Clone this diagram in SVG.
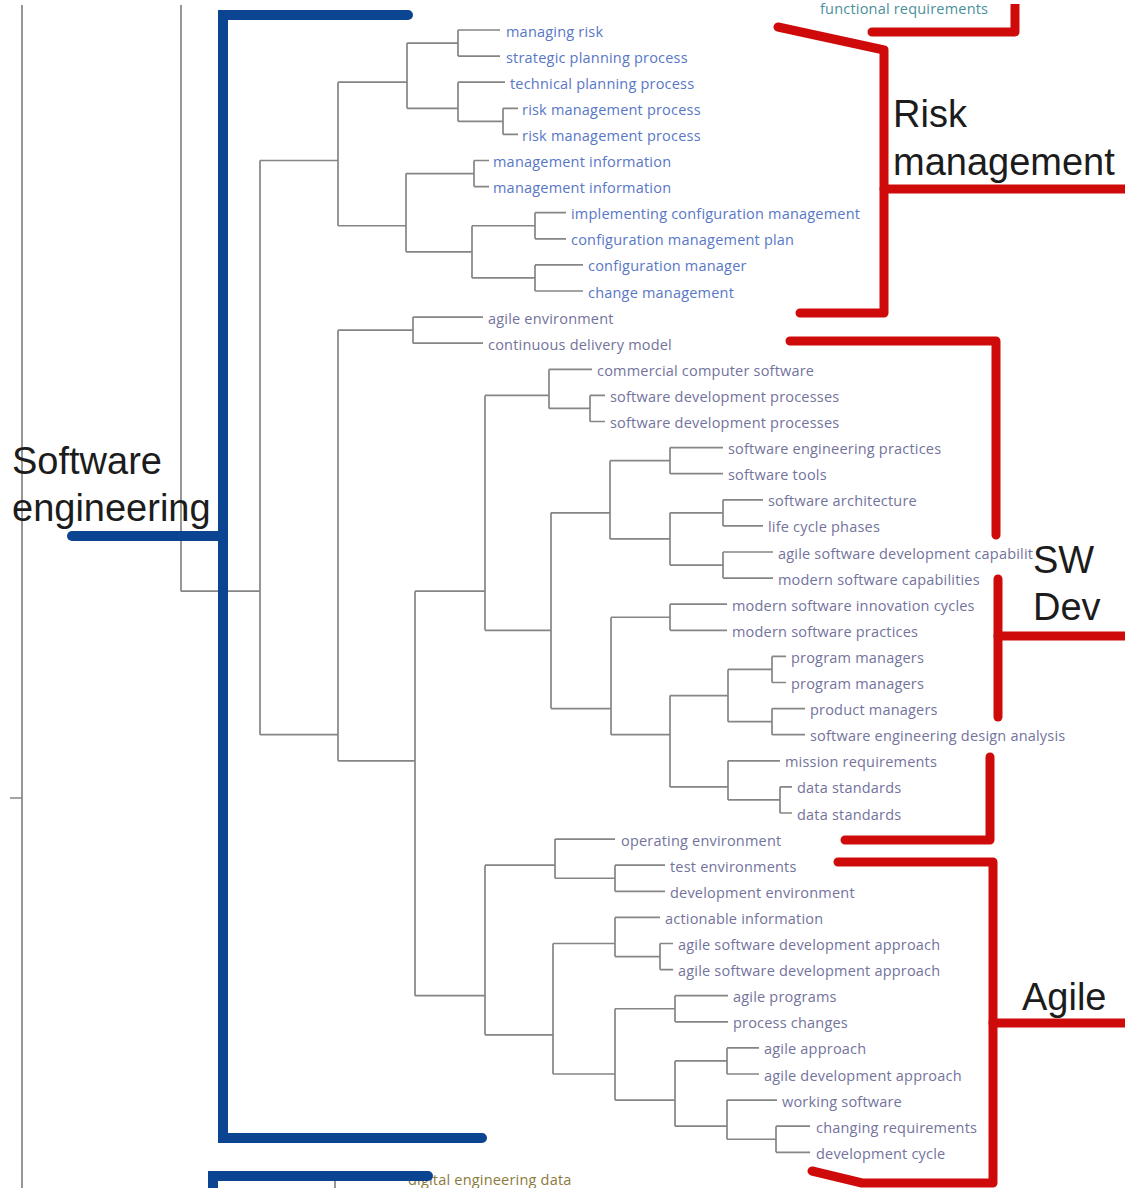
<svg xmlns="http://www.w3.org/2000/svg" width="1125" height="1188" viewBox="0 0 1125 1188">
  <style>
    .tree { fill: none; stroke: #858585; stroke-width: 1.7; }
    .lbl { font-family: "Open Sans", "Liberation Sans", sans-serif; font-size: 14.5px; letter-spacing: 0.2px; }
    .risk { fill: #5877c6; }
    .dev { fill: #73739c; }
    .other { fill: #8a7a3c; }
    .func { fill: #4a8f9c; }
    .title { font-family: "Liberation Sans", Arial, sans-serif; font-size: 38px; fill: #1c1c1c; }
    .blue { fill: none; stroke: #0b4591; stroke-width: 10; stroke-linecap: round; stroke-linejoin: miter; }
    .red { fill: none; stroke: #cf0a0a; stroke-width: 9; stroke-linecap: round; stroke-linejoin: round; }
  </style>
  <defs>
    <clipPath id="page">
      <rect x="0" y="4" width="1125" height="1184"/>
    </clipPath>
  </defs>
  <rect width="1125" height="1188" fill="#ffffff"/>
  <g id="leaf-functional-requirements" class="lbl func"><text x="820" y="14">functional requirements</text></g>
  <g clip-path="url(#page)">
    <!-- dendrogram branches -->
    <g id="connectors" class="tree">
      <path d="M22 5V1188M10 798H22"/>
      <path d="M181 5V591.15"/>
      <path d="M335 1178.4V1190"/>
      <!-- internal nodes: branch from parent, then vertical span over children -->
      <path d="M407 43.05H458M458 30V56.1"/>
      <path d="M458 121.35H503M503 108.3V134.4"/>
      <path d="M407 108.3H458M458 82.2V121.35"/>
      <path d="M338 82.2H407M407 43.05V108.3"/>
      <path d="M406 173.55H474M474 160.5V186.6"/>
      <path d="M472 225.75H535M535 212.7V238.8"/>
      <path d="M472 277.95H535M535 264.9V291"/>
      <path d="M406 251.85H472M472 225.75V277.95"/>
      <path d="M338 225.75H406M406 173.55V251.85"/>
      <path d="M260 160.5H338M338 82.2V225.75"/>
      <path d="M338 330.15H413M413 317.1V343.2"/>
      <path d="M549 408.45H590M590 395.4V421.5"/>
      <path d="M485 395.4H549M549 369.3V408.45"/>
      <path d="M610 460.65H670M670 447.6V473.7"/>
      <path d="M670 512.85H723M723 499.8V525.9"/>
      <path d="M670 565.05H723M723 552V578.1"/>
      <path d="M610 538.95H670M670 512.85V565.05"/>
      <path d="M551 512.85H610M610 460.65V538.95"/>
      <path d="M611 617.25H670M670 604.2V630.3"/>
      <path d="M728 669.45H772M772 656.4V682.5"/>
      <path d="M728 721.65H772M772 708.6V734.7"/>
      <path d="M670 695.55H728M728 669.45V721.65"/>
      <path d="M728 799.95H780M780 786.9V813"/>
      <path d="M670 786.9H728M728 760.8V799.95"/>
      <path d="M611 734.7H670M670 695.55V786.9"/>
      <path d="M551 708.6H611M611 617.25V734.7"/>
      <path d="M485 630.3H551M551 512.85V708.6"/>
      <path d="M415 591.15H485M485 395.4V630.3"/>
      <path d="M555 878.25H615M615 865.2V891.3"/>
      <path d="M485 865.2H555M555 839.1V878.25"/>
      <path d="M615 956.55H660M660 943.5V969.6"/>
      <path d="M553 943.5H615M615 917.4V956.55"/>
      <path d="M615 1008.75H675M675 995.7V1021.8"/>
      <path d="M675 1060.95H727M727 1047.9V1074"/>
      <path d="M727 1139.25H776M776 1126.2V1152.3"/>
      <path d="M675 1126.2H727M727 1100.1V1139.25"/>
      <path d="M615 1100.1H675M675 1060.95V1126.2"/>
      <path d="M553 1074H615M615 1008.75V1100.1"/>
      <path d="M485 1034.85H553M553 943.5V1074"/>
      <path d="M415 995.7H485M485 865.2V1034.85"/>
      <path d="M338 760.8H415M415 591.15V995.7"/>
      <path d="M260 734.7H338M338 330.15V760.8"/>
      <path d="M181 591.15H260M260 160.5V734.7"/>
      <!-- leaf stubs -->
      <path d="M458 30H500M458 56.1H500M458 82.2H505M503 108.3H518M503 134.4H518"/>
      <path d="M474 160.5H489M474 186.6H489M535 212.7H566M535 238.8H566M535 264.9H583M535 291H583"/>
      <path d="M413 317.1H483M413 343.2H483M549 369.3H592M590 395.4H605M590 421.5H605"/>
      <path d="M670 447.6H723M670 473.7H723M723 499.8H763M723 525.9H763M723 552H773M723 578.1H773"/>
      <path d="M670 604.2H727M670 630.3H727M772 656.4H786M772 682.5H786M772 708.6H805M772 734.7H805"/>
      <path d="M728 760.8H780M780 786.9H792M780 813H792"/>
      <path d="M555 839.1H615M615 865.2H665M615 891.3H665M615 917.4H660M660 943.5H673M660 969.6H673"/>
      <path d="M675 995.7H728M675 1021.8H728M727 1047.9H759M727 1074H759M727 1100.1H777M776 1126.2H810M776 1152.3H810"/>
      <path d="M335 1178.4H403"/>
    </g>

    <!-- leaf labels -->
    <g id="leaf-01" class="lbl risk"><text x="506" y="36.5">managing risk</text></g>
    <g id="leaf-02" class="lbl risk"><text x="506" y="62.6">strategic planning process</text></g>
    <g id="leaf-03" class="lbl risk"><text x="510" y="88.7">technical planning process</text></g>
    <g id="leaf-04" class="lbl risk"><text x="522" y="114.8">risk management process</text></g>
    <g id="leaf-05" class="lbl risk"><text x="522" y="140.9">risk management process</text></g>
    <g id="leaf-06" class="lbl risk"><text x="493" y="167">management information</text></g>
    <g id="leaf-07" class="lbl risk"><text x="493" y="193.1">management information</text></g>
    <g id="leaf-08" class="lbl risk"><text x="571" y="219.2">implementing configuration management</text></g>
    <g id="leaf-09" class="lbl risk"><text x="571" y="245.3">configuration management plan</text></g>
    <g id="leaf-10" class="lbl risk"><text x="588" y="271.4">configuration manager</text></g>
    <g id="leaf-11" class="lbl risk"><text x="588" y="297.5">change management</text></g>
    <g id="leaf-12" class="lbl dev"><text x="488" y="323.6">agile environment</text></g>
    <g id="leaf-13" class="lbl dev"><text x="488" y="349.7">continuous delivery model</text></g>
    <g id="leaf-14" class="lbl dev"><text x="597" y="375.8">commercial computer software</text></g>
    <g id="leaf-15" class="lbl dev"><text x="610" y="401.9">software development processes</text></g>
    <g id="leaf-16" class="lbl dev"><text x="610" y="428">software development processes</text></g>
    <g id="leaf-17" class="lbl dev"><text x="728" y="454.1">software engineering practices</text></g>
    <g id="leaf-18" class="lbl dev"><text x="728" y="480.2">software tools</text></g>
    <g id="leaf-19" class="lbl dev"><text x="768" y="506.3">software architecture</text></g>
    <g id="leaf-20" class="lbl dev"><text x="768" y="532.4">life cycle phases</text></g>
    <g id="leaf-21" class="lbl dev"><text x="778" y="558.5">agile software development capabilit</text></g>
    <g id="leaf-22" class="lbl dev"><text x="778" y="584.6">modern software capabilities</text></g>
    <g id="leaf-23" class="lbl dev"><text x="732" y="610.7">modern software innovation cycles</text></g>
    <g id="leaf-24" class="lbl dev"><text x="732" y="636.8">modern software practices</text></g>
    <g id="leaf-25" class="lbl dev"><text x="791" y="662.9">program managers</text></g>
    <g id="leaf-26" class="lbl dev"><text x="791" y="689">program managers</text></g>
    <g id="leaf-27" class="lbl dev"><text x="810" y="715.1">product managers</text></g>
    <g id="leaf-28" class="lbl dev"><text x="810" y="741.2">software engineering design analysis</text></g>
    <g id="leaf-29" class="lbl dev"><text x="785" y="767.3">mission requirements</text></g>
    <g id="leaf-30" class="lbl dev"><text x="797" y="793.4">data standards</text></g>
    <g id="leaf-31" class="lbl dev"><text x="797" y="819.5">data standards</text></g>
    <g id="leaf-32" class="lbl dev"><text x="621" y="845.6">operating environment</text></g>
    <g id="leaf-33" class="lbl dev"><text x="670" y="871.7">test environments</text></g>
    <g id="leaf-34" class="lbl dev"><text x="670" y="897.8">development environment</text></g>
    <g id="leaf-35" class="lbl dev"><text x="665" y="923.9">actionable information</text></g>
    <g id="leaf-36" class="lbl dev"><text x="678" y="950">agile software development approach</text></g>
    <g id="leaf-37" class="lbl dev"><text x="678" y="976.1">agile software development approach</text></g>
    <g id="leaf-38" class="lbl dev"><text x="733" y="1002.2">agile programs</text></g>
    <g id="leaf-39" class="lbl dev"><text x="733" y="1028.3">process changes</text></g>
    <g id="leaf-40" class="lbl dev"><text x="764" y="1054.4">agile approach</text></g>
    <g id="leaf-41" class="lbl dev"><text x="764" y="1080.5">agile development approach</text></g>
    <g id="leaf-42" class="lbl dev"><text x="782" y="1106.6">working software</text></g>
    <g id="leaf-43" class="lbl dev"><text x="816" y="1132.7">changing requirements</text></g>
    <g id="leaf-44" class="lbl dev"><text x="816" y="1158.8">development cycle</text></g>
    <g id="leaf-45" class="lbl other"><text x="408" y="1185">digital engineering data</text></g>

    <!-- group brackets -->
    <g id="brackets">
      <path class="blue" d="M408 15H223V1138H482"/>
      <path class="blue" d="M72 536H223"/>
      <path class="blue" d="M428 1176H213V1200"/>
      <path class="red" d="M872 32H1015V0"/>
      <path class="red" d="M778 27L884 50V313H800"/>
      <path class="red" d="M884 189H1130"/>
      <path class="red" d="M790 341H996V535"/>
      <path class="red" d="M998 579V717"/>
      <path class="red" d="M998 636H1130"/>
      <path class="red" d="M990 757V840H845"/>
      <path class="red" d="M838 862H993V1183H862L812 1171"/>
      <path class="red" d="M993 1023H1130"/>
    </g>

    <!-- group titles -->
    <g id="title-software-engineering" class="title">
      <text x="12" y="474">Software</text>
      <text x="12" y="521">engineering</text>
    </g>
    <g id="title-risk-management" class="title">
      <text x="893" y="127">Risk</text>
      <text x="893" y="175">management</text>
    </g>
    <g id="title-sw-dev" class="title">
      <text x="1033" y="573">SW</text>
      <text x="1033" y="620">Dev</text>
    </g>
    <g id="title-agile" class="title">
      <text x="1022" y="1010">Agile</text>
    </g>
  </g>
</svg>
